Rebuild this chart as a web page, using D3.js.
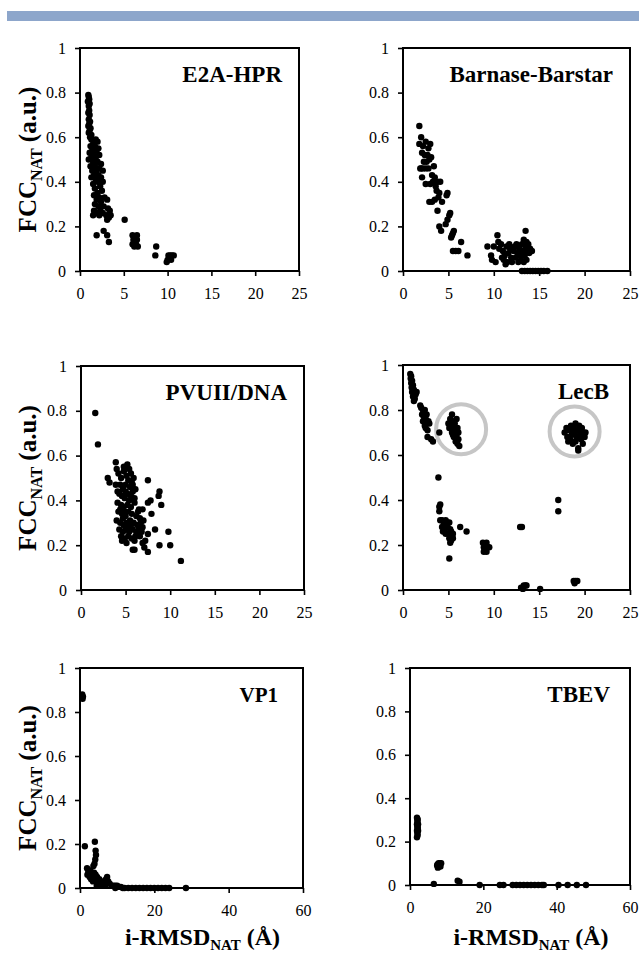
<!DOCTYPE html>
<html>
<head>
<meta charset="utf-8">
<script src="https://d3js.org/d3.v7.min.js"></script>
<style>
body { margin:0; background:#fff; }
text { font-family:"Liberation Serif","Times New Roman",serif; fill:#000; }
</style>
</head>
<body>
<svg id="fig" width="639" height="954"></svg>
<script>
// ---- data ----
var panelNames = ["E2A-HPR", "Barnase-Barstar", "PVUII/DNA", "LecB", "VP1", "TBEV"];
var xMaxes = [25, 25, 25, 25, 60, 60];
var xTicksShort = [0, 5, 10, 15, 20, 25];
var xTicksLong = [0, 20, 40, 60];
var yTicks = [0, 0.2, 0.4, 0.6, 0.8, 1];

var e2aPoints = [
 [0.95,0.79],[1.0,0.78],[1.05,0.77],[0.9,0.76],[1.1,0.75],[1.0,0.74],[1.05,0.72],[0.95,0.71],[1.1,0.70],
 [1.0,0.68],[1.15,0.67],[1.05,0.66],[0.95,0.65],[1.2,0.64],[1.1,0.63],[1.0,0.62],[1.3,0.61],[1.15,0.60],
 [1.3,0.59],[1.8,0.59],[2.0,0.58],[1.5,0.57],[1.2,0.56],[1.7,0.56],[2.1,0.55],[1.4,0.54],[1.9,0.54],
 [1.1,0.53],[1.6,0.52],[2.2,0.52],[1.3,0.51],[1.8,0.50],[1.0,0.50],[2.0,0.49],[1.5,0.49],[2.4,0.48],
 [1.2,0.47],[1.7,0.47],[2.2,0.46],[1.4,0.45],[1.9,0.45],[2.6,0.45],[1.6,0.43],[2.1,0.43],[2.4,0.42],
 [1.3,0.42],[1.8,0.41],[2.6,0.40],[2.0,0.40],[1.5,0.39],[2.3,0.38],[1.7,0.37],[2.5,0.36],[2.0,0.35],
 [1.6,0.34],[2.2,0.33],[2.8,0.33],[3.1,0.32],[1.9,0.32],[2.4,0.31],[1.7,0.30],[2.1,0.29],[2.7,0.29],
 [3.2,0.28],[3.4,0.27],[1.6,0.27],[2.3,0.27],[1.9,0.26],[2.6,0.26],[3.0,0.25],[3.5,0.25],[1.5,0.25],
 [2.2,0.25],[3.3,0.24],[3.1,0.23],
 [1.9,0.16],[2.7,0.18],[3.1,0.16],[3.3,0.13],[5.1,0.23],
 [6.0,0.16],[6.5,0.16],[6.1,0.14],[6.3,0.13],[6.0,0.12],[6.4,0.12],[6.6,0.11],[6.2,0.11],[6.5,0.14],
 [8.7,0.11],[8.6,0.07],
 [9.9,0.04],[10.0,0.05],[10.2,0.06],[10.3,0.07],[10.5,0.07],[10.7,0.07],[10.1,0.07],[10.4,0.05]
];

var barnasePoints = [
 [1.8,0.65],[1.8,0.57],[2.0,0.60],[2.2,0.56],[2.5,0.58],[2.8,0.55],[3.0,0.57],[2.1,0.53],[2.4,0.52],
 [2.7,0.52],[2.9,0.50],[3.1,0.51],[2.3,0.49],[2.6,0.49],[2.0,0.46],[1.9,0.46],[2.2,0.46],[2.5,0.46],
 [2.8,0.46],[2.1,0.42],[2.5,0.39],[3.2,0.43],[3.4,0.47],[3.5,0.42],[3.3,0.40],[3.6,0.38],[3.8,0.40],
 [4.1,0.40],[3.0,0.39],[3.7,0.36],[4.0,0.35],[3.9,0.33],[2.9,0.31],[3.2,0.31],[3.5,0.32],[4.3,0.31],
 [3.8,0.27],[4.8,0.34],[4.9,0.35],[4.0,0.20],[4.2,0.18],[4.7,0.21],[4.9,0.23],[5.1,0.25],[5.2,0.26],
 [5.6,0.18],[5.4,0.16],[5.3,0.15],[5.5,0.17],[5.5,0.09],[5.8,0.09],[6.1,0.09],[6.4,0.13],[7.1,0.07],
 [9.3,0.11],[9.7,0.07],[9.8,0.05],[10.0,0.11],[10.2,0.04],[10.4,0.16],[10.5,0.13],[10.6,0.10],[10.8,0.12],
 [11.0,0.09],[11.2,0.07],[11.1,0.05],[11.4,0.11],[11.5,0.04],[11.6,0.08],[11.8,0.10],[11.9,0.06],[12.0,0.04],
 [12.2,0.09],[12.3,0.11],[12.4,0.06],[12.6,0.08],[12.7,0.04],[12.8,0.10],[12.9,0.07],[13.0,0.05],[13.1,0.12],
 [13.2,0.09],[13.3,0.14],[13.4,0.07],[13.5,0.18],[13.5,0.11],[13.6,0.05],[13.7,0.09],[13.8,0.12],[13.9,0.08],
 [14.0,0.10],[14.2,0.09],[13.3,0.04],[12.5,0.12],[11.7,0.12],[11.3,0.03],[10.9,0.06],[13.6,0.13],
 [13.1,0],[13.4,0],[13.7,0],[14.0,0],[14.3,0],[14.6,0],[14.9,0],[15.2,0],[15.5,0],[15.9,0]
];

var pvuiiPoints = [
 [1.6,0.79],[1.9,0.65],[3.0,0.50],[3.2,0.48],[3.9,0.57],[4.0,0.54],[3.9,0.47],[5.0,0.55],[5.4,0.54],
 [7.5,0.49],[8.8,0.44],[8.7,0.42],[9.0,0.38],[7.8,0.40],[7.5,0.39],[7.9,0.34],[6.5,0.36],[6.9,0.36],
 [8.3,0.27],[7.5,0.25],[9.8,0.26],[8.8,0.20],[10.0,0.20],[7.1,0.19],[7.5,0.17],[6.0,0.18],[5.8,0.18],
 [11.2,0.13],[6.9,0.21],[7.2,0.22],
 [4.2,0.52],[4.5,0.50],[4.8,0.53],[5.1,0.51],[5.3,0.49],[5.6,0.52],[5.9,0.50],[4.4,0.47],[4.7,0.45],
 [5.0,0.47],[5.5,0.46],[5.8,0.47],[6.1,0.45],[4.3,0.43],[4.6,0.42],[4.9,0.41],[5.2,0.43],[5.6,0.42],
 [6.0,0.41],[4.1,0.39],[4.5,0.38],[4.8,0.37],[5.2,0.38],[5.6,0.37],[6.0,0.39],[4.2,0.35],[4.6,0.34],
 [5.0,0.33],[5.3,0.35],[5.7,0.34],[6.2,0.33],[6.6,0.32],[4.0,0.31],[4.4,0.30],[4.8,0.29],[5.1,0.30],
 [5.5,0.31],[5.9,0.30],[6.3,0.29],[6.7,0.30],[4.3,0.27],[4.7,0.26],[5.0,0.27],[5.4,0.26],[5.8,0.27],
 [6.2,0.26],[6.5,0.27],[4.5,0.24],[4.9,0.23],[5.3,0.24],[5.7,0.23],[6.1,0.24],[4.6,0.22],[5.1,0.21],
 [6.6,0.24],[7.0,0.31],[6.9,0.28],[4.8,0.55],[5.2,0.56],[5.7,0.48],[4.1,0.44],[4.9,0.35],[5.4,0.40],
 [5.0,0.44],[4.4,0.36],[5.6,0.29],[6.4,0.35],[5.8,0.44],[6.8,0.26],[5.3,0.28],[4.7,0.32],[6.0,0.22]
];

var lecbPoints = [
 [0.8,0.96],[0.9,0.95],[0.85,0.94],[1.0,0.93],[0.9,0.92],[1.1,0.91],[0.95,0.90],[1.2,0.89],[1.0,0.88],
 [1.3,0.88],[1.4,0.87],[1.1,0.86],[1.3,0.85],[1.2,0.84],[1.5,0.88],
 [1.9,0.82],[2.0,0.81],[2.2,0.80],[2.4,0.80],[2.1,0.78],[2.3,0.77],[2.5,0.76],[2.6,0.78],[2.2,0.75],
 [2.4,0.73],[2.6,0.74],[2.8,0.75],[2.5,0.72],[2.7,0.71],[2.9,0.74],[2.7,0.68],[3.1,0.67],[3.3,0.66],
 [4.0,0.70],
 [5.0,0.74],[5.2,0.76],[5.4,0.78],[5.3,0.73],[5.5,0.75],[5.6,0.72],[5.1,0.72],[5.4,0.70],[5.7,0.74],
 [5.8,0.71],[5.9,0.76],[5.6,0.68],[5.9,0.69],[6.0,0.72],[6.1,0.67],[6.0,0.65],[6.2,0.64],[5.8,0.66],
 [6.1,0.70],[5.5,0.69],
 [17.8,0.70],[18.0,0.72],[18.1,0.68],[18.3,0.71],[18.4,0.67],[18.5,0.73],[18.6,0.69],[18.7,0.65],
 [18.8,0.72],[18.9,0.70],[19.0,0.74],[19.0,0.66],[19.1,0.68],[19.2,0.71],[19.3,0.63],[19.4,0.73],
 [19.5,0.69],[19.6,0.67],[19.7,0.72],[19.8,0.70],[20.0,0.68],[20.1,0.70],[18.2,0.66],[19.3,0.62],[19.8,0.65],
 [3.9,0.50],[4.0,0.37],[4.1,0.38],[4.0,0.35],
 [4.1,0.31],[4.3,0.31],[4.5,0.30],[4.7,0.31],[4.9,0.30],[5.1,0.30],[4.3,0.28],[4.6,0.27],[4.9,0.28],
 [5.2,0.27],[4.4,0.26],[4.7,0.25],[5.0,0.25],[5.3,0.26],[5.4,0.24],[5.1,0.23],[5.3,0.22],[5.5,0.23],
 [5.2,0.21],[5.5,0.25],[4.5,0.28],
 [5.1,0.14],[6.3,0.28],[7.0,0.26],
 [8.8,0.21],[9.2,0.21],[8.9,0.19],[9.3,0.19],[9.5,0.19],[9.0,0.18],[9.2,0.17],[8.9,0.17],
 [12.9,0.28],[13.1,0.28],[13.0,0.01],[13.3,0.02],[13.5,0.02],[13.6,0.02],[13.2,0.005],[15.1,0.005],
 [17.1,0.40],[17.1,0.35],
 [18.8,0.04],[19.0,0.04],[19.2,0.04],[18.9,0.03]
];

var vp1Points = [
 [0.6,0.88],[0.8,0.87],[0.7,0.86],[1.3,0.19],[4.0,0.21],[4.2,0.17],[4.3,0.15],[4.1,0.13],[3.9,0.11],[3.6,0.10],
 [1.9,0.09],[2.2,0.08],[2.5,0.07],[2.0,0.06],[2.8,0.08],[3.1,0.06],[3.4,0.05],[2.6,0.05],[3.0,0.04],
 [3.8,0.07],[4.2,0.06],[4.6,0.05],[4.0,0.04],[3.5,0.03],[4.8,0.03],[5.2,0.04],[5.5,0.02],[5.0,0.02],
 [6.0,0.03],[6.5,0.02],[7.0,0.04],[7.3,0.05],[7.6,0.03],[6.8,0.01],[8.0,0.02],[8.5,0.01],[5.8,0.01],
 [4.5,0.01],[9.0,0.01],[9.5,0.01],[10.0,0.01],[10.5,0.005],[11,0.005],
 [9.5,0],[11.5,0],[12,0],[13,0],[14,0],[15,0],[16,0],[17,0],[18,0],[19,0],[20,0],[21,0],[22,0],
 [23,0],[24,0],[28.5,0]
];

var tbevPoints = [
 [1.9,0.31],[2.1,0.30],[2.0,0.29],[1.9,0.28],[2.2,0.28],[2.0,0.27],[2.1,0.26],[1.9,0.25],[2.2,0.25],
 [2.0,0.24],[2.1,0.23],[1.9,0.22],[2.0,0.305],[2.1,0.265],
 [7.4,0.09],[7.8,0.10],[8.2,0.10],[8.5,0.10],[7.6,0.08],[8.0,0.09],[8.3,0.085],[7.5,0.095],
 [6.5,0.005],[13,0.02],[13.5,0.015],[19,0],[24.5,0],[25.5,0],[28,0],[29,0],[30,0],[31,0],[32,0],
 [33,0],[34,0],[35,0],[36,0],[36.5,0],[40.5,0],[43,0],[45.5,0],[48,0]
];

// highlighted groups in LecB (centre in data units)
var lecbCircles = [[6.4, 0.715], [18.9, 0.705]];

var panelPoints = [e2aPoints, barnasePoints, pvuiiPoints, lecbPoints, vp1Points, tbevPoints];

// ---- layout ----
var boxes = [
  {x0: 80,  x1: 299, y0: 48,  y1: 271, leftCol: true,  title: 23, tdx: 17},
  {x0: 403, x1: 630, y0: 48,  y1: 271, leftCol: false, title: 23, tdx: 17},
  {x0: 81,  x1: 304, y0: 366, y1: 590, leftCol: true,  title: 23, tdx: 17},
  {x0: 403, x1: 630, y0: 365, y1: 590, leftCol: false, title: 23, tdx: 21},
  {x0: 80,  x1: 303, y0: 668, y1: 888, leftCol: true,  title: 21, tdx: 25, bottom: true},
  {x0: 410, x1: 630, y0: 668, y1: 885, leftCol: false, title: 23, tdx: 20, bottom: true}
];

var svg = d3.select("#fig");

svg.append("rect")
  .attr("x", 7).attr("y", 11)
  .attr("width", 632).attr("height", 10)
  .attr("fill", "#8da6cb");

var fmtY = function(d) { return (d === 0 || d === 1) ? String(d) : d.toFixed(1); };

boxes.forEach(function(b, i) {
  var x = d3.scaleLinear().domain([0, xMaxes[i]]).range([b.x0, b.x1]);
  var y = d3.scaleLinear().domain([0, 1]).range([b.y1, b.y0]);
  var g = svg.append("g");

  var yAxis = g.append("g")
    .attr("transform", "translate(" + b.x0 + ",0)")
    .call(d3.axisLeft(y).tickValues(yTicks).tickFormat(fmtY).tickSize(5).tickSizeOuter(0).tickPadding(9));
  var xAxis = g.append("g")
    .attr("transform", "translate(0," + b.y1 + ")")
    .call(d3.axisBottom(x).tickValues(xMaxes[i] > 30 ? xTicksLong : xTicksShort)
      .tickSize(5).tickSizeOuter(0).tickPadding(12));
  [yAxis, xAxis].forEach(function(a) {
    a.select(".domain").remove();
    a.selectAll("line").attr("stroke", "#000").attr("stroke-width", 1.6);
    a.selectAll("text").style("font-size", "16px").attr("fill", "#000")
      .style("font-family", "'Liberation Serif','Times New Roman',serif");
  });

  g.append("rect")
    .attr("x", b.x0).attr("y", b.y0)
    .attr("width", b.x1 - b.x0).attr("height", b.y1 - b.y0)
    .attr("fill", "none").attr("stroke", "#000").attr("stroke-width", 2);

  if (i === 3) {
    g.selectAll(".hl").data(lecbCircles).enter().append("circle")
      .attr("cx", function(d) { return x(d[0]); })
      .attr("cy", function(d) { return y(d[1]); })
      .attr("r", 25)
      .attr("fill", "none").attr("stroke", "#c6c6c6").attr("stroke-width", 4);
  }

  g.selectAll(".dot").data(panelPoints[i]).enter().append("circle")
    .attr("cx", function(d) { return x(d[0]); })
    .attr("cy", function(d) { return y(d[1]); })
    .attr("r", 3.2)
    .attr("fill", "#000");

  g.append("text")
    .attr("x", b.x1 - b.tdx).attr("y", b.y0 + 34)
    .attr("text-anchor", "end")
    .style("font-size", b.title + "px").style("font-weight", "bold")
    .text(panelNames[i]);

  if (b.leftCol) {
    var yl = g.append("text")
      .attr("transform", "translate(36," + ((b.y0 + b.y1) / 2) + ") rotate(-90)")
      .attr("text-anchor", "middle")
      .style("font-size", "25px").style("font-weight", "bold");
    yl.append("tspan").text("FCC");
    yl.append("tspan").attr("dy", 6).style("font-size", "16px").text("NAT");
    yl.append("tspan").attr("dy", -6).text(" (a.u.)");
  }

  if (b.bottom) {
    var xl = g.append("text")
      .attr("x", (b.x0 + b.x1) / 2 + 11).attr("y", 945)
      .attr("text-anchor", "middle")
      .style("font-size", "24px").style("font-weight", "bold");
    xl.append("tspan").text("i-RMSD");
    xl.append("tspan").attr("dy", 5).style("font-size", "15px").text("NAT");
    xl.append("tspan").attr("dy", -5).text(" (\u00C5)");
  }
});
</script>
</body>
</html>
